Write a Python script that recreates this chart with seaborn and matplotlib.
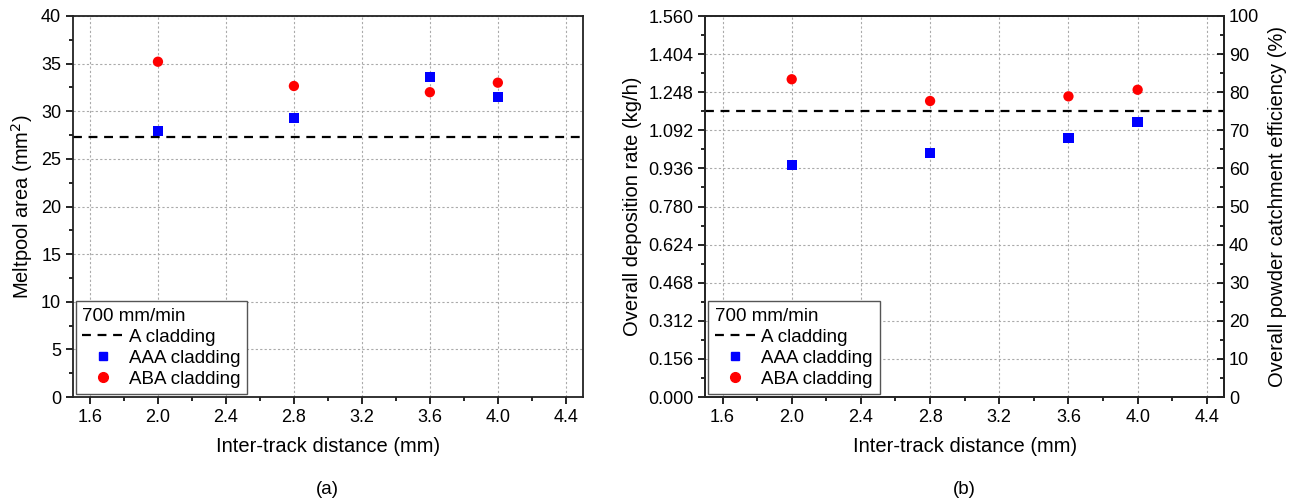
import numpy as np
import pandas as pd
import matplotlib
matplotlib.use("Agg")
import matplotlib.pyplot as plt
from matplotlib.ticker import MultipleLocator, FixedLocator
from matplotlib.lines import Line2D
import seaborn as sns

# data
distance = [2.0, 2.8, 3.6, 4.0]
area_aaa = [27.9, 29.3, 33.6, 31.5]
area_aba = [35.2, 32.65, 32.0, 33.0]
area_a = 27.3
rate_aaa = [0.949, 1.000, 1.061, 1.127]
rate_aba = [1.301, 1.212, 1.231, 1.258]
rate_a = 1.172

sns.set_style("ticks")
plt.rcParams["font.family"] = ["Liberation Sans", "DejaVu Sans"]
plt.rcParams["axes.linewidth"] = 1.3
for k in ["text.color", "axes.labelcolor", "xtick.color", "ytick.color"]:
    plt.rcParams[k] = "black"

df_area = pd.DataFrame({"x": distance * 2, "y": area_aaa + area_aba,
                        "kind": ["AAA cladding"] * 4 + ["ABA cladding"] * 4})
df_rate = pd.DataFrame({"x": distance * 2, "y": rate_aaa + rate_aba,
                        "kind": ["AAA cladding"] * 4 + ["ABA cladding"] * 4})

fig = plt.figure(figsize=(12.94, 5), dpi=100)
ax1 = fig.add_axes([0.0564, 0.206, 0.394, 0.762])
ax2 = fig.add_axes([0.545, 0.206, 0.401, 0.762])

pal = {"AAA cladding": "#0000ff", "ABA cladding": "#ff0000"}
mk = {"AAA cladding": "s", "ABA cladding": "o"}


def style_x(ax):
    ax.set_xlim(1.5, 4.5)
    ax.xaxis.set_minor_locator(MultipleLocator(0.2))
    ax.set_xticks([1.6, 2.0, 2.4, 2.8, 3.2, 3.6, 4.0, 4.4])
    ax.set_xticklabels(["1.6", "2.0", "2.4", "2.8", "3.2", "3.6", "4.0", "4.4"])
    ax.grid(True, which="major", color="#aaaaaa", linestyle=(0, (2, 2)), linewidth=0.8)
    ax.set_axisbelow(True)
    ax.tick_params(axis="both", which="major", labelsize=13, length=5, width=1.2,
                   direction="out", top=False, right=False)
    ax.tick_params(axis="both", which="minor", length=3, width=1.2,
                   direction="out", top=False, right=False)
    ax.set_xlabel("Inter-track distance (mm)", fontsize=14.5, labelpad=8)
    for s in ax.spines.values():
        s.set_visible(True)
        s.set_color("#222222")


def add_legend(ax):
    handles = [Line2D([], [], color="black", linestyle=(0, (4, 3)), lw=1.6, label="A cladding"),
               Line2D([], [], color="#0000ff", marker="s", linestyle="none", markersize=6,
                      label="AAA cladding"),
               Line2D([], [], color="#ff0000", marker="o", linestyle="none", markersize=7,
                      label="ABA cladding")]
    leg = ax.legend(handles=handles, loc="lower left", fontsize=13.5, frameon=True,
                    title="700 mm/min", title_fontsize=13.5, alignment="left",
                    fancybox=False, edgecolor="#555555", framealpha=1,
                    handlelength=2.2, handletextpad=0.3, labelspacing=0.2,
                    borderpad=0.35, borderaxespad=0.15)
    leg.get_frame().set_linewidth(1.0)


# (a) meltpool area
sns.scatterplot(data=df_area, x="x", y="y", hue="kind", style="kind", palette=pal,
                markers=mk, s=55, edgecolor="none", ax=ax1, legend=False, zorder=3)
ax1.axhline(area_a, color="black", linestyle=(0, (4, 3)), lw=1.6, zorder=2)
style_x(ax1)
ax1.set_ylim(0, 40)
ax1.yaxis.set_major_locator(MultipleLocator(5))
ax1.yaxis.set_minor_locator(MultipleLocator(2.5))
ax1.set_ylabel("Meltpool area (mm$^2$)", fontsize=14.5)
add_legend(ax1)

# (b) deposition rate and catchment efficiency
sns.scatterplot(data=df_rate, x="x", y="y", hue="kind", style="kind", palette=pal,
                markers=mk, s=55, edgecolor="none", ax=ax2, legend=False, zorder=3)
ax2.axhline(rate_a, color="black", linestyle=(0, (4, 3)), lw=1.6, zorder=2)
style_x(ax2)
ax2.set_ylim(0, 1.56)
yt = np.round(np.arange(0, 11) * 0.156, 3)
ax2.set_yticks(yt)
ax2.set_yticklabels([f"{v:.3f}" for v in yt])
ax2.yaxis.set_minor_locator(FixedLocator(np.arange(0, 20) * 0.078 + 0.078))
ax2.set_ylabel("Overall deposition rate (kg/h)", fontsize=14.5)
add_legend(ax2)

axr = ax2.twinx()
axr.set_ylim(0, 100)
axr.yaxis.set_major_locator(MultipleLocator(10))
axr.yaxis.set_minor_locator(MultipleLocator(5))
axr.tick_params(axis="y", which="major", labelsize=13, length=5, width=1.2, direction="in")
axr.tick_params(axis="y", which="minor", length=3, width=1.2, direction="in")
axr.set_ylabel("Overall powder catchment efficiency (%)", fontsize=14.5, labelpad=6)
axr.spines["right"].set_color("#222222")

fig.text(0.253, 0.012, "(a)", ha="center", fontsize=13.5)
fig.text(0.745, 0.012, "(b)", ha="center", fontsize=13.5)

fig.savefig("out.png", dpi=100)
